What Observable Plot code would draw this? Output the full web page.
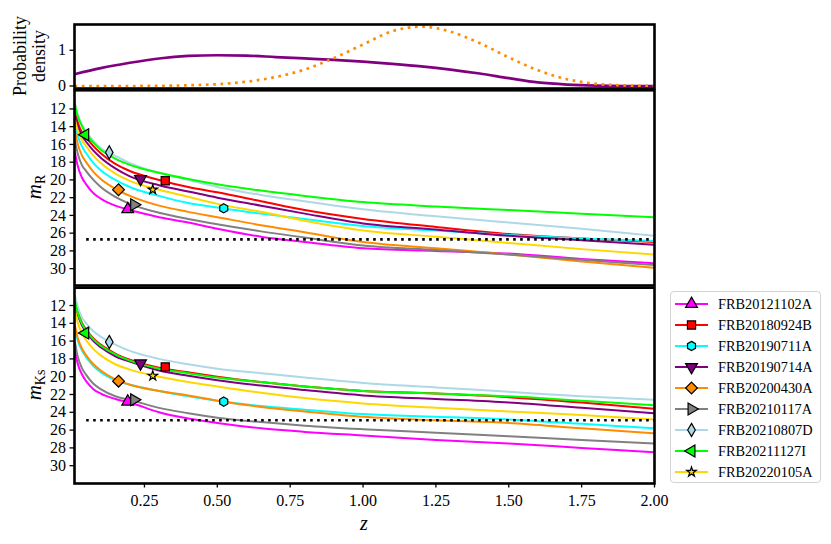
<!DOCTYPE html>
<html><head><meta charset="utf-8">
<script src="https://cdn.jsdelivr.net/npm/d3@7"></script>
<script src="https://cdn.jsdelivr.net/npm/@observablehq/plot@0.6"></script>
<style>
body{margin:0;background:#fff;}
#wrap{position:relative;width:831px;height:544px;overflow:hidden;background:#fff;font-family:"Liberation Serif","Times New Roman","DejaVu Serif",serif;}
#wrap > svg, #wrap > div{position:absolute;left:0;top:0;}
#wrap text{font-family:"Liberation Serif","Times New Roman","DejaVu Serif",serif;}
</style></head><body><div id="wrap"></div>
<script>
// ---------- data ----------
const names = ["FRB20121102A","FRB20180924B","FRB20190711A","FRB20190714A","FRB20200430A","FRB20210117A","FRB20210807D","FRB20211127I","FRB20220105A"];
const colors = ["#ff00ff","#ff0000","#00ffff","#800080","#ff8c00","#808080","#add8e6","#00ff00","#ffd700"];
const frbZ = [0.1927, 0.3214, 0.522, 0.2365, 0.161, 0.2145, 0.1293, 0.0469, 0.2785];
const frbMagR = [23.3, 20.1, 23.2, 19.9, 21.1, 22.8, 16.9, 14.9, 21.1];
const frbMagK = [22.8, 18.9, 22.8, 18.5, 20.5, 22.6, 16.1, 15.1, 19.9];

const zGrid = [0.012, 0.02, 0.035, 0.05, 0.075, 0.1, 0.15, 0.2, 0.3, 0.4, 0.5, 0.65, 0.8, 1.0, 1.25, 1.5, 1.75, 2.0];

const rMag121102A = [17.0, 18.3, 19.7, 20.5, 21.5, 22.1, 22.9, 23.4, 24.2, 24.8, 25.5, 26.4, 27.0, 27.7, 28.0, 28.3, 28.9, 29.4];
const rMag180924B = [12.4, 13.4, 14.6, 15.2, 16.2, 17.0, 18.2, 19.0, 20.0, 20.8, 21.4, 22.4, 23.4, 24.4, 25.3, 26.1, 26.6, 27.0];
const rMag190711A = [13.8, 14.9, 16.2, 17.0, 18.1, 18.9, 20.0, 20.8, 21.8, 22.6, 23.1, 23.8, 24.4, 25.2, 25.7, 26.2, 26.6, 26.9];
const rMag190714A = [12.8, 13.8, 15.0, 15.7, 16.7, 17.5, 18.7, 19.6, 20.6, 21.3, 22.0, 22.9, 23.8, 24.9, 25.6, 26.3, 26.8, 27.3];
const rMag200430A = [14.6, 15.8, 17.2, 18.0, 19.1, 19.9, 21.0, 21.8, 22.9, 23.6, 24.2, 25.1, 25.9, 27.0, 27.7, 28.4, 29.2, 29.9];
const rMag210117A = [15.7, 16.9, 18.3, 19.0, 20.0, 20.8, 21.9, 22.7, 23.7, 24.4, 25.0, 25.8, 26.5, 27.4, 27.9, 28.4, 29.0, 29.6];
const rMag210807D = [11.4, 12.5, 13.7, 14.6, 15.6, 16.4, 17.3, 18.1, 19.2, 20.0, 20.8, 21.7, 22.4, 23.3, 24.1, 24.8, 25.5, 26.3];
const rMag211127I = [11.6, 12.7, 13.9, 14.8, 15.8, 16.6, 17.6, 18.3, 19.2, 19.9, 20.5, 21.2, 21.8, 22.5, 23.0, 23.4, 23.8, 24.2];
const rMag220105A = [13.3, 14.3, 15.5, 16.2, 17.3, 18.1, 19.3, 20.1, 21.1, 21.9, 22.7, 23.6, 24.6, 25.7, 26.4, 27.1, 27.8, 28.4];

const kMag121102A = [17.0, 18.4, 19.7, 20.5, 21.4, 21.9, 22.5, 22.9, 24.0, 24.7, 25.2, 25.8, 26.2, 26.6, 27.1, 27.5, 28.0, 28.5];
const kMag180924B = [11.5, 12.6, 13.9, 14.7, 15.7, 16.4, 17.4, 18.1, 19.0, 19.5, 20.0, 20.6, 21.1, 21.6, 21.9, 22.3, 22.9, 23.6];
const kMag190711A = [14.6, 15.8, 17.0, 17.8, 18.8, 19.5, 20.4, 20.9, 21.6, 22.2, 22.7, 23.3, 23.7, 24.2, 24.5, 24.8, 25.3, 25.8];
const kMag190714A = [11.8, 12.9, 14.2, 15.0, 16.0, 16.7, 17.7, 18.3, 19.3, 19.9, 20.4, 21.0, 21.5, 22.1, 22.5, 22.9, 23.5, 24.1];
const kMag200430A = [14.3, 15.5, 16.8, 17.6, 18.6, 19.3, 20.3, 20.9, 21.6, 22.1, 22.7, 23.4, 23.9, 24.5, 24.9, 25.2, 25.8, 26.35];
const kMag210117A = [16.2, 17.6, 19.0, 19.8, 20.8, 21.4, 22.2, 22.6, 23.5, 24.1, 24.6, 25.1, 25.5, 25.9, 26.3, 26.7, 27.1, 27.5];
const kMag210807D = [10.9, 12.0, 13.3, 14.0, 14.9, 15.5, 16.4, 17.1, 18.0, 18.6, 19.1, 19.6, 20.1, 20.7, 21.2, 21.7, 22.2, 22.6];
const kMag211127I = [11.6, 12.7, 14.0, 14.8, 15.8, 16.5, 17.5, 18.2, 19.1, 19.6, 20.1, 20.6, 21.1, 21.6, 21.9, 22.2, 22.7, 23.2];
const kMag220105A = [12.6, 13.8, 15.1, 15.9, 16.9, 17.6, 18.6, 19.2, 20.0, 20.6, 21.1, 21.8, 22.4, 23.0, 23.5, 23.9, 24.3, 24.8];

const limZ = [0.05, 2.0];
const limMagR = 26.7;
const limMagK = 24.9;

const pdfZ = [0.01, 0.1, 0.2, 0.3, 0.4, 0.5, 0.6, 0.7, 0.8, 0.9, 1.0, 1.1, 1.2, 1.3, 1.4, 1.5, 1.6, 1.7, 1.8, 1.9, 2.0];
const pdfHost = [0.33, 0.50, 0.65, 0.77, 0.84, 0.86, 0.85, 0.81, 0.77, 0.73, 0.68, 0.62, 0.55, 0.46, 0.35, 0.22, 0.10, 0.04, 0.01, 0.0, 0.0];
const pdfOther = [0.0, 0.0, 0.0, 0.005, 0.02, 0.05, 0.12, 0.25, 0.46, 0.78, 1.16, 1.53, 1.66, 1.52, 1.20, 0.80, 0.44, 0.19, 0.06, 0.015, 0.0];

const pdfTicks = [0, 1];
const yTicks = [12, 14, 16, 18, 20, 22, 24, 26, 28, 30];
const xTicks = [0.25, 0.5, 0.75, 1.0, 1.25, 1.5, 1.75, 2.0];

// ---------- symbols ----------
const sqrt3 = Math.sqrt(3);
function tri(dir) {
  return {draw(c, size) {
    const y = -Math.sqrt(size / (sqrt3 * 3));
    let pts = [[0, y * 2], [-sqrt3 * y, -y], [sqrt3 * y, -y]];
    if (dir === "down") pts = pts.map(([a, b]) => [a, -b]);
    if (dir === "right") pts = pts.map(([a, b]) => [-b, a]);
    if (dir === "left") pts = pts.map(([a, b]) => [b, -a]);
    c.moveTo(pts[0][0], pts[0][1]); c.lineTo(pts[1][0], pts[1][1]); c.lineTo(pts[2][0], pts[2][1]); c.closePath();
  }};
}
const hexagon = {draw(c, size) {
  const r = Math.sqrt(size / Math.PI) * 1.05;
  for (let k = 0; k < 6; k++) {
    const a = -Math.PI / 2 + k * Math.PI / 3;
    const px = r * Math.cos(a), py = r * Math.sin(a);
    if (k === 0) c.moveTo(px, py); else c.lineTo(px, py);
  }
  c.closePath();
}};
const symbolTypes = [tri("up"), d3.symbolSquare, hexagon, tri("down"), d3.symbolDiamond2, tri("right"), d3.symbolDiamond, tri("left"), d3.symbolStar];
const symbolR = [4.4, 4.6, 4.4, 4.4, 5.3, 4.4, 4.0, 4.4, 3.0];

const rCurves = [rMag121102A, rMag180924B, rMag190711A, rMag190714A, rMag200430A, rMag210117A, rMag210807D, rMag211127I, rMag220105A];
const kCurves = [kMag121102A, kMag180924B, kMag190711A, kMag190714A, kMag200430A, kMag210117A, kMag210807D, kMag211127I, kMag220105A];

// ---------- layout ----------
const W = 831, H = 544;
const left = 74, right = 654;
const wrap = document.getElementById("wrap");
const font = '"Liberation Serif", "Times New Roman", "DejaVu Serif", serif';
const baseStyle = {fontFamily: font, fontSize: "16px", background: "transparent", overflow: "visible", color: "black"};
const xScale = {domain: [0.01, 2.0]};

// Top panel: probability density
const topPlot = Plot.plot({
  width: W, height: H,
  marginLeft: left, marginRight: W - right, marginTop: 24, marginBottom: H - 88,
  style: baseStyle,
  x: xScale,
  y: {domain: [-0.07, 1.72]},
  marks: [
    Plot.line(pdfZ.map((z, i) => ({z, p: pdfHost[i]})), {x: "z", y: "p", stroke: "#800080", strokeWidth: 2.7, curve: "monotone-x", clip: true}),
    Plot.line(pdfZ.map((z, i) => ({z, p: pdfOther[i]})), {x: "z", y: "p", stroke: "#ff8c00", strokeWidth: 2.7, strokeDasharray: "2.7,4.6", strokeLinecap: "butt", curve: "monotone-x", clip: true}),
    Plot.axisY({ticks: pdfTicks, tickFormat: d => String(d), tickSize: 4.5, tickPadding: 4, label: null, strokeWidth: 1.3}),
    Plot.axisX({ticks: [], label: null}),
    Plot.frame({stroke: "black", strokeWidth: 2.6})
  ]
});

function magPanel(curves, marks, lim, top, bottom, domain, showX) {
  const lines = curves.map((vals, k) => Plot.line(zGrid.map((z, i) => ({z, m: vals[i]})), {x: "z", y: "m", stroke: colors[k], strokeWidth: 2, curve: "monotone-x", clip: true}));
  const dots = names.map((n, k) => Plot.dot([{z: frbZ[k], m: marks[k]}], {x: "z", y: "m", symbol: symbolTypes[k], r: symbolR[k], fill: colors[k], stroke: "black", strokeWidth: 1.2}));
  const limLine = Plot.line(limZ.map(z => ({z, m: lim})), {x: "z", y: "m", stroke: "black", strokeWidth: 2.6, strokeDasharray: "2.6,4.4", strokeLinecap: "butt"});
  return Plot.plot({
    width: W, height: H,
    marginLeft: left, marginRight: W - right, marginTop: top, marginBottom: H - bottom,
    style: baseStyle,
    x: xScale,
    y: {domain, reverse: true},
    marks: [
      ...lines,
      limLine,
      ...dots,
      Plot.axisY({ticks: yTicks, tickSize: 4.5, tickPadding: 4, label: null, strokeWidth: 1.3}),
      showX
        ? Plot.axisX({ticks: xTicks, tickFormat: d => d.toFixed(2), tickSize: 4.5, tickPadding: 7, label: null, strokeWidth: 1.3})
        : Plot.axisX({ticks: [], label: null}),
      Plot.frame({stroke: "black", strokeWidth: 2.6})
    ]
  });
}

const midPlot = magPanel(rCurves, frbMagR, limMagR, 89.8, 285, [9.9, 31.9], false);
const botPlot = magPanel(kCurves, frbMagK, limMagK, 287.2, 483, [10, 32], true);

wrap.appendChild(topPlot);
wrap.appendChild(midPlot);
wrap.appendChild(botPlot);

// ---------- axis labels ----------
const lab = d3.select(wrap).append("svg").attr("width", W).attr("height", H)
  .style("font-family", font).style("overflow", "visible");
lab.append("text").attr("transform", "translate(26,56) rotate(-90)").attr("text-anchor", "middle")
  .attr("font-size", 18).text("Probability");
lab.append("text").attr("transform", "translate(45,56) rotate(-90)").attr("text-anchor", "middle")
  .attr("font-size", 18).text("density");

function mathLabel(x, y, sub) {
  const t = lab.append("text").attr("transform", `translate(${x},${y}) rotate(-90)`).attr("text-anchor", "middle");
  t.append("tspan").attr("font-style", "italic").attr("font-size", 21).text("m");
  t.append("tspan").attr("font-size", 14).attr("dy", 4).text(sub);
}
mathLabel(41, 187, "R");
mathLabel(41, 385, "Ks");

lab.append("text").attr("x", 364).attr("y", 530).attr("text-anchor", "middle")
  .attr("font-style", "italic").attr("font-size", 20).text("z");

// ---------- legend ----------
const lg = d3.select(wrap).append("div")
  .style("left", "670px").style("top", "291px").style("width", "151px").style("height", "192px")
  .style("border", "1px solid #d3d3d3").style("border-radius", "4px").style("box-sizing", "border-box")
  .style("background", "rgba(255,255,255,0.8)");
const lsvg = lg.append("svg").attr("width", 151).attr("height", 192).style("position", "absolute").style("left", "-1px").style("top", "-1px");
names.forEach((n, k) => {
  const y = 13 + 21 * k;
  lsvg.append("line").attr("x1", 5).attr("x2", 38).attr("y1", y).attr("y2", y)
    .attr("stroke", colors[k]).attr("stroke-width", 2);
  lsvg.append("path").attr("transform", `translate(21.5,${y})`)
    .attr("d", d3.symbol().type(symbolTypes[k]).size(Math.PI * symbolR[k] * symbolR[k])())
    .attr("fill", colors[k]).attr("stroke", "black").attr("stroke-width", 1.2);
  lsvg.append("text").attr("x", 48).attr("y", y).attr("dy", "0.35em")
    .attr("font-family", font).attr("font-size", 14.3).text(n);
});
</script></body></html>
